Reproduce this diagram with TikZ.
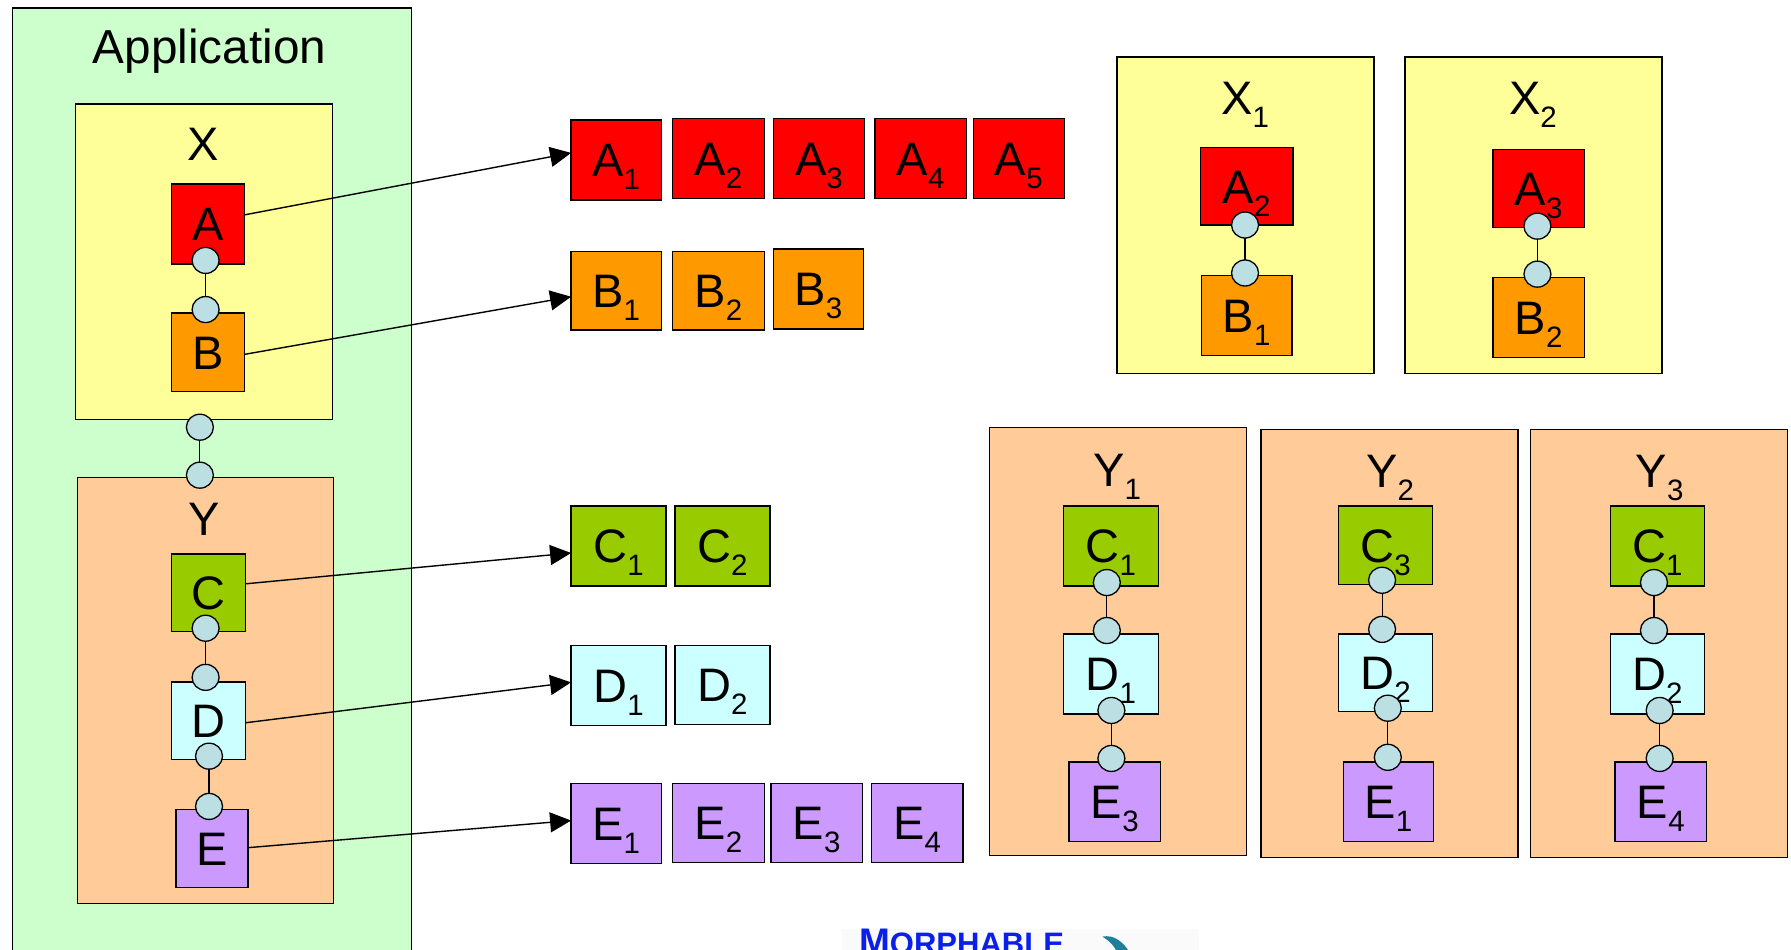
\documentclass[tikz,border=0pt]{standalone}
\usepackage{fontspec}
\setmainfont{Liberation Sans}
\usetikzlibrary{arrows.meta,shapes.geometric}
\definecolor{cApp}{HTML}{CCFFCC}
\definecolor{cX}{HTML}{FFFF99}
\definecolor{cY}{HTML}{FFCC99}
\definecolor{cA}{HTML}{FF0000}
\definecolor{cB}{HTML}{FF9900}
\definecolor{cC}{HTML}{99CC00}
\definecolor{cD}{HTML}{CCFFFF}
\definecolor{cE}{HTML}{CC99FF}
\definecolor{cPort}{HTML}{BBDFE3}
\definecolor{cLogo}{HTML}{0A20E8}
\definecolor{cSwoosh}{HTML}{1F7F9A}
\newcommand\sbs[2]{#1\raisebox{-13pt}{\fontsize{29.5}{29.5}\selectfont #2}}
% name, x1, y1, x2, y2, fill, text (coordinates in the 1568-wide frame)
\newcommand\bx[7]{%
  \pgfmathsetmacro\bw{(#4-#2)*1.1422}%
  \pgfmathsetmacro\bh{(#5-#3)*1.1422}%
  \node[boxed,fill=#6,minimum width=\bw pt,minimum height=\bh pt] (#1) at ({(#2+#4)/2},{(#3+#5)/2}) {#7};%
}
% two joined ports
\newcommand\pp[6]{%
  \node[port] (#1) at (#2,#3) {};
  \node[port] (#4) at (#5,#6) {};
  \draw[thinline] (#1) -- (#4);
}
\tikzset{
  boxed/.style={draw=black,line width=1.3pt,inner sep=0pt,outer sep=0pt,
    font=\fontsize{47}{47}\selectfont,text height=34pt,text depth=0pt,align=center},
  lab/.style={inner sep=0pt,font=\fontsize{47}{47}\selectfont,text height=34pt,text depth=0pt},
  port/.style={ellipse,draw=black,line width=1.3pt,fill=cPort,inner sep=0pt,outer sep=0pt,
    minimum width=27pt,minimum height=26pt},
  thinline/.style={draw=black,line width=1.2pt},
  link/.style={draw=black,line width=1.4pt,-{Triangle[length=21pt,width=20pt]}},
}
\begin{document}
\begin{tikzpicture}[x=1.1422pt,y=-1.1422pt]
\useasboundingbox (0,0) rectangle (1568,831.7);
\clip (0,0) rectangle (1568,831.7);
% logo
\fill[black!2] (737,813) rectangle (1050,840);
\node[inner sep=0pt,anchor=base west,text=cLogo] (logo) at (752,835.7)
  {\bfseries\fontsize{37}{37}\selectfont M\fontsize{31}{31}\selectfont ORPHABLE};
\fill[cSwoosh] (965,820) .. controls (975,818) and (985,824) .. (992,840) -- (980,840) .. controls (978,830) and (972,824) .. (965,820);
% application
\bx{app}{11}{7}{360}{900}{cApp}{}
\node[lab,font=\fontsize{47.7}{47.7}\selectfont] (lapp) at (183.5,41) {Application};
% X
\bx{x}{66}{91}{291}{367}{cX}{}
\node[lab] (lx) at (178,126) {X};
\bx{a}{150}{161}{214}{231}{cA}{A}
\bx{b}{150}{274}{214}{343}{cB}{B}
\pp{p1}{180}{228}{p2}{180}{271}
% Y
\bx{y}{68}{418}{292}{791}{cY}{}
\node[lab] (ly) at (179,453.5) {Y};
\bx{c}{150}{485}{215}{553}{cC}{C}
\bx{d}{150}{597}{215}{665}{cD}{D}
\bx{e}{154}{709}{217}{777}{cE}{E}
\pp{p3}{175}{374}{p4}{175}{416}
\pp{p5}{180}{550}{p6}{180}{593}
\pp{p7}{183}{662}{p8}{183}{706}
% component instances
\bx{ai}{500}{105}{579}{175}{cA}{\sbs{A}{1}}
\bx{aii}{589}{104}{669}{174}{cA}{\sbs{A}{2}}
\bx{aiii}{677}{104}{757}{174}{cA}{\sbs{A}{3}}
\bx{aiv}{766}{104}{846}{174}{cA}{\sbs{A}{4}}
\bx{av}{852}{104}{932}{174}{cA}{\sbs{A}{5}}
\bx{bi}{500}{220}{579}{289}{cB}{\sbs{B}{1}}
\bx{bii}{589}{220}{669}{289}{cB}{\sbs{B}{2}}
\bx{biii}{677}{218}{756}{288}{cB}{\sbs{B}{3}}
\bx{ci}{500}{443}{583}{513}{cC}{\sbs{C}{1}}
\bx{cii}{591}{443}{674}{513}{cC}{\sbs{C}{2}}
\bx{di}{500}{565}{583}{635}{cD}{\sbs{D}{1}}
\bx{dii}{591}{565}{674}{634}{cD}{\sbs{D}{2}}
\bx{ei}{500}{686}{579}{756}{cE}{\sbs{E}{1}}
\bx{eii}{589}{686}{669}{755}{cE}{\sbs{E}{2}}
\bx{eiii}{675}{686}{755}{755}{cE}{\sbs{E}{3}}
\bx{eiv}{763}{686}{843}{755}{cE}{\sbs{E}{4}}
% arrows
\draw[link] ([yshift=9pt]a.east) -- ([yshift=7pt]ai.west);
\draw[link] ([yshift=-2pt]b.east) -- ([yshift=-6pt]bi.west);
\draw[link] ([yshift=9pt]c.east) -- ([yshift=-7pt]ci.west);
\draw[link] ([yshift=-2pt]d.east) -- ([yshift=3pt]di.west);
\draw[link] ([yshift=1pt]e.east) -- ([yshift=3pt]ei.west);
% X1
\bx{xa}{978}{50}{1203}{327}{cX}{}
\node[lab] (lxa) at (1090,85.5) {\sbs{X}{1}};
\bx{xaa}{1051}{129}{1132}{197}{cA}{\sbs{A}{2}}
\bx{xab}{1052}{241}{1131}{311}{cB}{\sbs{B}{1}}
\pp{q1}{1090}{197}{q2}{1090}{239}
% X2
\bx{xb}{1230}{50}{1455}{327}{cX}{}
\node[lab] (lxb) at (1342,85.5) {\sbs{X}{2}};
\bx{xba}{1307}{131}{1387}{199}{cA}{\sbs{A}{3}}
\bx{xbb}{1307}{243}{1387}{313}{cB}{\sbs{B}{2}}
\pp{q3}{1346}{198}{q4}{1346}{240}
% Y1
\bx{ya}{866}{374}{1091}{749}{cY}{}
\node[lab] (lya) at (978,411) {\sbs{Y}{1}};
\bx{yac}{931}{443}{1014}{513}{cC}{\sbs{C}{1}}
\bx{yad}{931}{555}{1014}{625}{cD}{\sbs{D}{1}}
\bx{yae}{936}{667}{1016}{737}{cE}{\sbs{E}{3}}
\pp{r1}{969}{510}{r2}{969}{552}
\pp{r3}{973}{622}{r4}{973}{664}
% Y2
\bx{yb}{1104}{376}{1329}{751}{cY}{}
\node[lab] (lyb) at (1217,412) {\sbs{Y}{2}};
\bx{ybc}{1172}{443}{1254}{512}{cC}{\sbs{C}{3}}
\bx{ybd}{1172}{555}{1254}{623}{cD}{\sbs{D}{2}}
\bx{ybe}{1176}{667}{1255}{737}{cE}{\sbs{E}{1}}
\pp{r5}{1210}{508}{r6}{1210}{551}
\pp{r7}{1215}{620}{r8}{1215}{663}
% Y3
\bx{yc}{1340}{376}{1565}{751}{cY}{}
\node[lab] (lyc) at (1453,412) {\sbs{Y}{3}};
\bx{ycc}{1410}{443}{1492}{513}{cC}{\sbs{C}{1}}
\bx{ycd}{1410}{555}{1492}{625}{cD}{\sbs{D}{2}}
\bx{yce}{1414}{667}{1494}{737}{cE}{\sbs{E}{4}}
\pp{r9}{1448}{510}{r10}{1448}{552}
\pp{r11}{1453}{622}{r12}{1453}{664}
\end{tikzpicture}
\end{document}
